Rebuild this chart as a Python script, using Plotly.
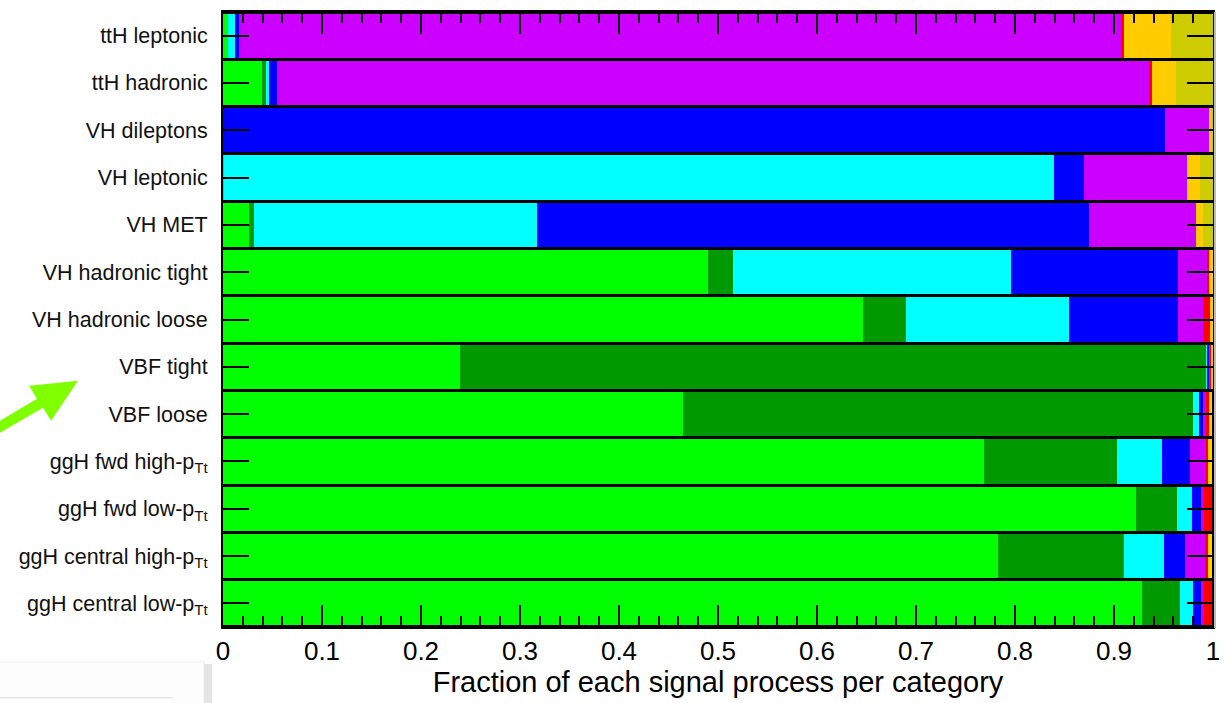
import plotly.graph_objects as go

categories = [
    "ttH leptonic",
    "ttH hadronic",
    "VH dileptons",
    "VH leptonic",
    "VH MET",
    "VH hadronic tight",
    "VH hadronic loose",
    "VBF tight",
    "VBF loose",
    "ggH fwd high-p<sub>Tt</sub>",
    "ggH fwd low-p<sub>Tt</sub>",
    "ggH central high-p<sub>Tt</sub>",
    "ggH central low-p<sub>Tt</sub>",
]

ggh = [0.0047, 0.0394, 0.0, 0.0015, 0.0263, 0.4899, 0.6465, 0.2394, 0.4643, 0.7687, 0.9222, 0.7828, 0.9283]
vbf = [0.0, 0.0040, 0.0, 0.0, 0.0054, 0.0249, 0.0434, 0.7545, 0.5155, 0.1343, 0.0414, 0.1273, 0.0384]
wh = [0.0071, 0.0033, 0.0, 0.8379, 0.2856, 0.2811, 0.1646, 0.0010, 0.0061, 0.0455, 0.0152, 0.0404, 0.0131]
zh = [0.0040, 0.0081, 0.9515, 0.0303, 0.5576, 0.1687, 0.1101, 0.0015, 0.0040, 0.0283, 0.0091, 0.0212, 0.0081]
tth = [0.8920, 0.8815, 0.0444, 0.1040, 0.1081, 0.0303, 0.0253, 0.0010, 0.0030, 0.0162, 0.0020, 0.0212, 0.0020]
bbh = [0.0020, 0.0020, 0.0, 0.0, 0.0, 0.0010, 0.0071, 0.0010, 0.0030, 0.0020, 0.0091, 0.0020, 0.0091]
thq = [0.0475, 0.0242, 0.0030, 0.0131, 0.0071, 0.0040, 0.0030, 0.0016, 0.0035, 0.0040, 0.0, 0.0040, 0.0]
thw = [0.0424, 0.0374, 0.0010, 0.0131, 0.0101, 0.0, 0.0, 0.0, 0.0, 0.0, 0.0, 0.0, 0.0]

series_names = ["ggH", "VBF", "WH", "ZH", "ttH", "bbH", "tHq", "tHW"]
series_values = [ggh, vbf, wh, zh, tth, bbh, thq, thw]
series_colors = ["#00ff00", "#009900", "#00ffff", "#0000ff", "#cc00ff", "#ff0000", "#ffcc00", "#cccc00"]

x_tick_vals = [0, 0.1, 0.2, 0.3, 0.4, 0.5, 0.6, 0.7, 0.8, 0.9, 1]
x_tick_text = ["0", "0.1", "0.2", "0.3", "0.4", "0.5", "0.6", "0.7", "0.8", "0.9", "1"]

fig = go.Figure()
for name, vals, col in zip(series_names, series_values, series_colors):
    fig.add_trace(go.Bar(
        y=categories, x=vals, name=name, orientation="h",
        marker=dict(color=col, line=dict(width=0)),
        showlegend=False,
    ))

# plot area in pixels
L, R, T, B = 223, 1213, 10, 627
W, H = R - L, B - T

def px(x):
    return (x - L) / W

def py(y):
    return (B - y) / H

# green arrow (annotation mark outside the plot)
arrow_pts = [(0, 420), (37, 398), (29, 385), (78, 380), (51, 420), (43, 407), (0, 432)]
path = "M " + " L ".join(f"{px(a):.5f},{py(b):.5f}" for a, b in arrow_pts) + " Z"

shapes = [
    dict(type="path", path=path, xref="paper", yref="paper",
         fillcolor="#80ff00", line=dict(width=0), layer="above"),
    # light panel at bottom-left
    dict(type="rect", xref="paper", yref="paper",
         x0=px(-5), x1=px(204), y0=py(710), y1=py(662),
         fillcolor="#fdfdfd", line=dict(color="#ececec", width=1), layer="above"),
    dict(type="rect", xref="paper", yref="paper",
         x0=px(204), x1=px(212), y0=py(710), y1=py(664),
         fillcolor="#e4e4e4", line=dict(width=0), layer="above"),
    dict(type="line", xref="paper", yref="paper",
         x0=px(0), x1=px(173), y0=py(698), y1=py(698),
         line=dict(color="#dddddd", width=1), layer="above"),
    # faint shadow on right frame edge
    dict(type="line", xref="paper", yref="paper",
         x0=px(1215), x1=px(1215), y0=py(628), y1=py(10),
         line=dict(color="#bbbbbb", width=2), layer="above"),
]

fig.update_layout(
    width=1230, height=703,
    margin=dict(l=L, r=1230 - R, t=T, b=703 - B),
    paper_bgcolor="white",
    plot_bgcolor="black",
    barmode="stack",
    bargap=0.065,
    font=dict(family="Liberation Sans, Arial, sans-serif", color="black"),
    shapes=shapes,
)

fig.update_xaxes(
    range=[0, 1],
    tickvals=x_tick_vals, ticktext=x_tick_text,
    ticks="inside", ticklen=22, tickwidth=1.5, tickcolor="black",
    minor=dict(dtick=0.02, ticks="inside", ticklen=11, tickwidth=1.5, tickcolor="black", showgrid=False),
    showgrid=False, zeroline=False,
    showline=True, linecolor="black", linewidth=2, mirror="ticks",
    tickfont=dict(size=26, color="black"),
    ticklabelstandoff=0,
    title=dict(text="Fraction of each signal process per category", font=dict(size=29, color="black"), standoff=2),
)

fig.update_yaxes(
    autorange="reversed",
    ticks="inside", ticklen=26, tickwidth=1.5, tickcolor="black",
    showgrid=False, zeroline=False,
    showline=True, linecolor="black", linewidth=2, mirror="ticks",
    tickfont=dict(size=21.5, color="#111111"),
    ticklabelstandoff=9,
)

fig.write_html("out.html")
